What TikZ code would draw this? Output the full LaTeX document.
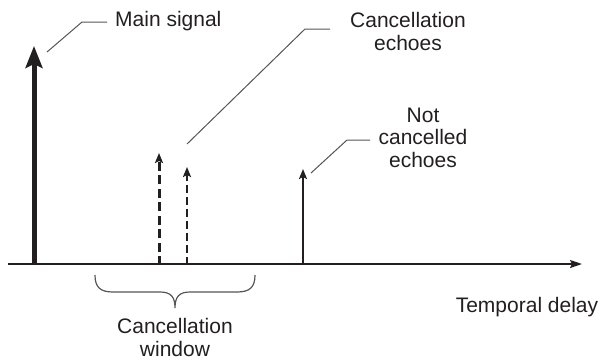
\documentclass[tikz,border=0pt]{standalone}
\usepackage{fontspec}
\setmainfont{Liberation Sans}
\usetikzlibrary{arrows.meta}
\definecolor{ink}{HTML}{231F20}
\definecolor{lead}{HTML}{555555}
\begin{document}
\begin{tikzpicture}[x=1pt,y=-1pt,
  lbl/.style={inner sep=0pt,text=ink,font=\fontsize{21}{22.5}\selectfont,align=center},
  leader/.style={draw=lead,line width=1pt},
  bigarrow/.style={draw=ink,line width=5pt,-{Stealth[length=22pt,width=17pt,inset=4pt]}},
  smallarrow/.style={draw=ink,-{Stealth[length=10pt,width=8pt,inset=2pt]}},
  axisline/.style={draw=ink,line width=1.8pt,-{Stealth[length=12pt,width=8pt,inset=2pt]}},
  bracestyle/.style={draw=lead,line width=1.2pt}]
\useasboundingbox (0,0) rectangle (600,360);
% axis
\coordinate (ax0) at (8,264);
\coordinate (ax1) at (582,264);
\draw[axisline] (ax0) -- (ax1);
% main signal
\coordinate (m0) at (34,265);
\coordinate (m1) at (34,46);
\draw[bigarrow] (m0) -- (m1);
% cancellation echoes
\coordinate (c0) at (159,265);
\coordinate (c1) at (159,153);
\draw[smallarrow,line width=3pt,dash pattern=on 9pt off 4.5pt] (c0) -- (c1);
\coordinate (d0) at (187,265);
\coordinate (d1) at (187,167);
\draw[smallarrow,line width=2pt,dash pattern=on 8pt off 4pt] (d0) -- (d1);
% not cancelled echo
\coordinate (n0) at (303,265);
\coordinate (n1) at (303,169);
\draw[smallarrow,line width=2pt] (n0) -- (n1);
% labels
\node[lbl,anchor=base west] (tmain) at (115,26) {Main signal};
\node[lbl,anchor=base] (tcanc) at (408,50) {Cancellation\\echoes};
\node[lbl,anchor=base] (tnot) at (423,167) {Not\\cancelled\\echoes};
\node[lbl,anchor=base] (ttemp) at (527,312) {Temporal delay};
\node[lbl,anchor=base] (twin) at (175,356) {Cancellation\\window};
% leaders
\coordinate (lm0) at (47,52);
\coordinate (lm1) at (82,22);
\coordinate (lm2) at (107,22);
\draw[leader] (lm0) -- (lm1) -- (lm2);
\coordinate (lc0) at (187,144);
\coordinate (lc1) at (305,29);
\coordinate (lc2) at (330,29);
\draw[leader] (lc0) -- (lc1) -- (lc2);
\coordinate (ln0) at (311,173);
\coordinate (ln1) at (347,140);
\coordinate (ln2) at (370,140);
\draw[leader] (ln0) -- (ln1) -- (ln2);
% brace
\coordinate (b0) at (95,275);
\coordinate (bm) at (175,308);
\coordinate (b1) at (255,275);
\draw[bracestyle] (b0) .. controls (95,287) and (100,292) .. (113,292)
  -- (160,292) .. controls (171,292) and (175,297) .. (bm)
  .. controls (175,297) and (179,292) .. (190,292)
  -- (237,292) .. controls (250,292) and (255,287) .. (b1);
\end{tikzpicture}
\end{document}
